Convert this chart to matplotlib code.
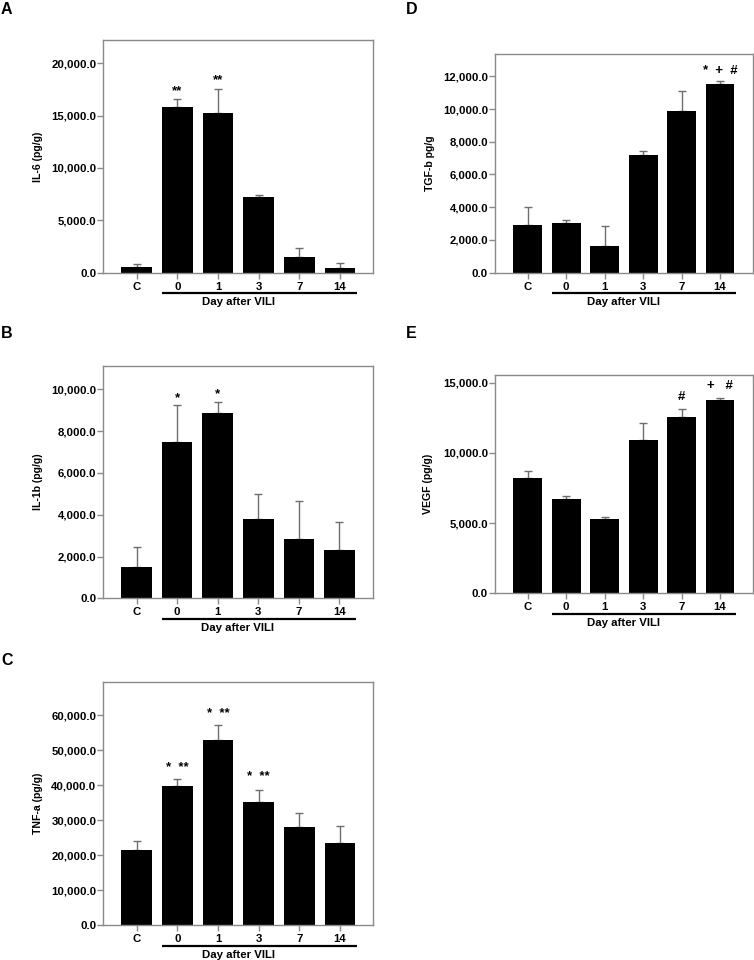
import matplotlib
matplotlib.use("Agg")
import matplotlib.pyplot as plt
from matplotlib.transforms import blended_transform_factory

plt.rcParams['font.family'] = ['Liberation Sans', 'DejaVu Sans']
plt.rcParams['font.weight'] = 'bold'

categories = ["C", "0", "1", "3", "7", "14"]

il6_mean = [573, 15800, 15290, 7200, 1465, 446]
il6_top = [800, 16560, 17520, 7390, 2325, 890]

il1b_mean = [1483, 7496, 8868, 3812, 2823, 2313]
il1b_top = [2472, 9250, 9378, 4976, 4657, 3668]

tnfa_mean = [21460, 39780, 52940, 35300, 28045, 23560]
tnfa_top = [24135, 41690, 57140, 38730, 32150, 28330]

tgfb_mean = [2893, 3015, 1609, 7212, 9901, 11551]
tgfb_top = [4034, 3198, 2832, 7416, 11103, 11694]

vegf_mean = [8188, 6693, 5293, 10941, 12579, 13790]
vegf_top = [8734, 6954, 5411, 12152, 13149, 13932]

W, H = 754, 960
fig = plt.figure(figsize=(W / 100, H / 100), dpi=100)

GRAY = '#8a8a8a'
ERR = '#6e6e6e'
FS = 8.2
FSL = 7.6


def make_panel(letter, letter_xy, box, mean, top, ylim, ystep, ylabel,
               ylabel_off, xpad, annots):
    left, right, tp, bot = box
    ax = fig.add_axes([left / W, 1 - bot / H, (right - left) / W, (bot - tp) / H])
    x = list(range(len(categories)))
    err = [t - m for m, t in zip(mean, top)]
    ax.bar(x, mean, width=0.75, color='black', edgecolor='black', linewidth=0, zorder=2)
    ax.errorbar(x, mean, yerr=[[0] * len(x), err], fmt='none', ecolor=ERR,
                elinewidth=1.0, capsize=3.2, capthick=1.0, zorder=1)
    ax.set_xlim(-xpad, len(x) - 1 + xpad)
    ax.set_ylim(0, ylim)
    ticks = [i * ystep for i in range(int(ylim // ystep) + 1)]
    ax.set_yticks(ticks)
    ax.set_yticklabels([f"{t:,.1f}" for t in ticks], fontsize=FS, fontweight='bold')
    ax.set_xticks(x)
    ax.set_xticklabels(categories, fontsize=FS, fontweight='bold')
    for s in ax.spines.values():
        s.set_color(GRAY)
        s.set_linewidth(1.0)
    ax.tick_params(axis='both', colors=GRAY, length=4, width=1.0, labelcolor='black')
    ax.tick_params(axis='x', pad=2.5)
    ax.tick_params(axis='y', pad=1)
    ax.set_ylabel(ylabel, fontsize=FSL, fontweight='bold')
    hpx = bot - tp
    wpx = right - left
    ax.yaxis.set_label_coords(-ylabel_off / wpx, 0.5)
    tr = blended_transform_factory(ax.transData, ax.transAxes)
    ly = -20.6 / hpx
    ax.plot([0.62, 5.41], [ly, ly], color='black', linewidth=1.6, transform=tr,
            clip_on=False, solid_capstyle='butt')
    ax.text(2.5, -29.5 / hpx, "Day after VILI", transform=tr, ha='center', va='center',
            fontsize=FS, fontweight='bold')
    for (xi, yv, s) in annots:
        ax.text(xi, yv, s, ha='center', va='center', fontsize=9.5, fontweight='bold')
    fig.text(letter_xy[0] / W, 1 - letter_xy[1] / H, letter, ha='left', va='top',
             fontsize=11.5, fontweight='bold')
    return ax


make_panel("A", (1, 2), (103.3, 373.3, 40, 272.7), il6_mean, il6_top, 22220, 5000,
           "IL-6 (pg/g)", 60, 0.82,
           [(1, 17300, "**"), (2, 18350, "**")])
make_panel("B", (1, 326), (103.3, 372.7, 365.7, 598.3), il1b_mean, il1b_top, 11130, 2000,
           "IL-1b (pg/g)", 60, 0.82,
           [(1, 9600, "*"), (2, 9770, "*")])
make_panel("C", (1, 653), (103.3, 373.3, 682.3, 925), tnfa_mean, tnfa_top, 69440, 10000,
           "TNF-a (pg/g)", 60, 0.82,
           [(1, 45000, "*  **"), (2, 60300, "*  **"), (3, 42300, "*  **")])
make_panel("D", (406, 2), (495, 752.7, 54, 272.7), tgfb_mean, tgfb_top, 13360, 2000,
           "TGF-b pg/g", 60, 0.85,
           [(5, 12300, "*  +  #")])
make_panel("E", (406, 326), (495, 752.7, 374.7, 593.3), vegf_mean, vegf_top, 15570, 5000,
           "VEGF (pg/g)", 62, 0.85,
           [(4, 14003, "#"), (5, 14762, "+   #")])

fig.savefig("out.png", dpi=100)
